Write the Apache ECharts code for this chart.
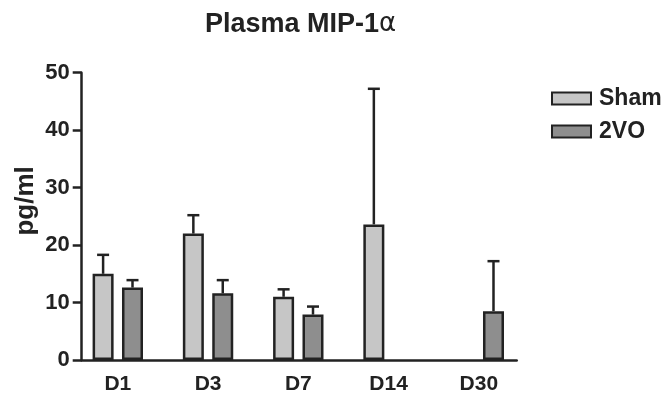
<!DOCTYPE html>
<html>
<head>
<meta charset="utf-8">
<script src="https://cdn.jsdelivr.net/npm/echarts@6/dist/echarts.min.js"></script>
<style>
  html, body { margin: 0; padding: 0; background: #fff; }
  #chart { width: 662px; height: 402px; }
</style>
</head>
<body>
<div id="chart"></div>
<script>
const categories = ["D1", "D3", "D7", "D14", "D30"]
const categoryPos = [1, 2, 3, 4, 5]
const shamMean = [15, 22, 11, 23.6, null]
const shamSem = [3.3, 3.2, 1.3, 23.6, null]
const vo2Mean = [12.6, 11.6, 7.9, null, 8.5]
const vo2Sem = [1.3, 2.3, 1.4, null, 8.7]
const yTicks = [0, 10, 20, 30, 40, 50]

const FONT = "'Liberation Sans', Arial, sans-serif"
const INK = "#222"
const BAR_W = 21
const BAR_GAP = 0.4
const OFFSET = BAR_W * (1 + BAR_GAP) / 2

const barData = (means) => categoryPos.map((x, i) => [x, means[i] == null ? '-' : means[i]])
const errData = (means, sems) => categoryPos
  .map((x, i) => [x, means[i], sems[i]])
  .filter((d) => d[1] != null)

const errorBar = (dx) => (params, api) => {
  const x = api.value(0)
  const m = api.value(1)
  const e = api.value(2)
  const base = api.coord([x, m])
  const top = api.coord([x, m + e])
  const cx = base[0] + dx
  const style = { stroke: INK, lineWidth: 2.5 }
  return {
    type: "group",
    children: [
      { type: "line", shape: { x1: cx, y1: base[1], x2: cx, y2: top[1] }, style },
      { type: "line", shape: { x1: cx - 6, y1: top[1], x2: cx + 6, y2: top[1] }, style }
    ]
  }
}

const chart = echarts.init(document.getElementById("chart"), null, { renderer: "canvas" })

chart.setOption({
  animation: false,
  backgroundColor: "#fff",
  title: {
    text: "{b|Plasma MIP-1}{a|α}",
    left: 200,
    top: 6,
    textStyle: {
      rich: {
        b: { fontFamily: FONT, fontWeight: "bold", fontSize: 27, color: INK },
        a: { fontFamily: "'DejaVu Sans', sans-serif", fontWeight: "normal", fontSize: 26, color: INK }
      }
    }
  },
  legend: {
    orient: "vertical",
    left: 546,
    top: 82,
    itemWidth: 39,
    itemHeight: 12,
    itemGap: 10,
    icon: "rect",
    data: ["Sham", "2VO"],
    textStyle: {
      fontFamily: FONT, fontWeight: "bold", fontSize: 23, color: INK,
      lineHeight: 22, padding: [0, 0, 0, 3]
    }
  },
  grid: { left: 81.7, right: 145.3, top: 72.7, bottom: 42, containLabel: false },
  xAxis: {
    type: "value",
    min: 0.6,
    max: 5.42,
    splitLine: { show: false },
    axisTick: { show: false },
    axisLine: { show: true, lineStyle: { color: INK, width: 2.5 } },
    axisLabel: {
      customValues: categoryPos,
      formatter: (v) => categories[Math.round(v) - 1],
      margin: 14,
      fontFamily: FONT, fontWeight: "bold", fontSize: 21, color: INK
    }
  },
  yAxis: {
    type: "value",
    min: 0,
    max: 50,
    interval: 10,
    name: "pg/ml",
    nameLocation: "middle",
    nameGap: 43,
    nameMoveOverlap: false,
    nameTextStyle: {
      fontFamily: FONT, fontWeight: "bold", fontSize: 26, color: INK,
      padding: [0, 0, 0, 31]
    },
    splitLine: { show: false },
    axisLine: { show: true, lineStyle: { color: INK, width: 2.5 } },
    axisTick: { show: true, length: 9, lineStyle: { color: INK, width: 2.5 } },
    axisLabel: {
      margin: 12,
      formatter: (v) => (yTicks.includes(v) ? String(v) : ""),
      fontFamily: FONT, fontWeight: "bold", fontSize: 22, color: INK
    }
  },
  series: [
    {
      name: "Sham",
      type: "bar",
      barWidth: BAR_W,
      barGap: BAR_GAP * 100 + "%",
      data: barData(shamMean),
      itemStyle: { color: "#c6c6c6", borderColor: INK, borderWidth: 2.5 }
    },
    {
      name: "2VO",
      type: "bar",
      barWidth: BAR_W,
      barGap: BAR_GAP * 100 + "%",
      data: barData(vo2Mean),
      itemStyle: { color: "#8e8e8e", borderColor: INK, borderWidth: 2.5 }
    },
    {
      type: "custom",
      renderItem: errorBar(-OFFSET),
      data: errData(shamMean, shamSem),
      z: 1
    },
    {
      type: "custom",
      renderItem: errorBar(OFFSET),
      data: errData(vo2Mean, vo2Sem),
      z: 1
    }
  ]
})
</script>
</body>
</html>
